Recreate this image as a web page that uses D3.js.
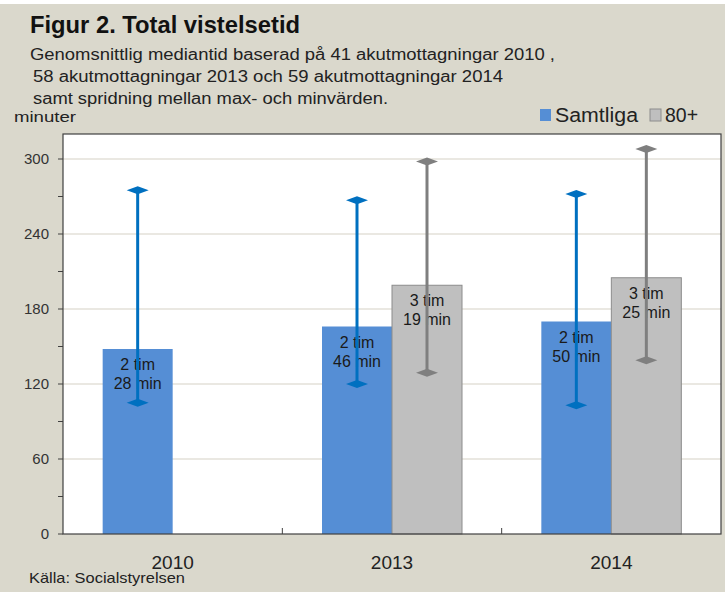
<!DOCTYPE html>
<html><head><meta charset="utf-8">
<script src="https://cdn.jsdelivr.net/npm/d3@7"></script>
<style>body{margin:0;background:#fff}svg{display:block}text{font-family:"Liberation Sans",Arial,sans-serif}</style>
</head><body><svg id="c" width="725" height="592"></svg>
<script>
const categories = ["2010","2013","2014"];
const series = ["Samtliga","80+"];
const samtliga = [148,166,170];
const plus80 = [null,199,205];
const samtligaMin = [105,120,103];
const samtligaMax = [275,267,272];
const plus80Min = [null,129,139];
const plus80Max = [null,298,308];
const labelsSamtliga = [["2 tim","28 min"],["2 tim","46 min"],["2 tim","50 min"]];
const labels80 = [null,["3 tim","19 min"],["3 tim","25 min"]];
const yTicks = [0,60,120,180,240,300];
const title = "Figur 2. Total vistelsetid";
const subtitle = ["Genomsnittlig mediantid baserad på 41 akutmottagningar 2010 ,","58 akutmottagningar 2013  och 59 akutmottagningar 2014","samt spridning mellan max- och minvärden."];
const source = "Källa: Socialstyrelsen";
const yUnit = "minuter";

const svg = d3.select("#c");
svg.append("rect").attr("x",0).attr("y",4).attr("width",725).attr("height",588).attr("fill","#DAD8CC");

const L=63,R=721,T=134,B=534;
const x = d3.scaleBand().domain(categories).range([L,R]);
const y = d3.scaleLinear().domain([0,320]).range([B,T]);
const bw = 70;
const xs = d3.scaleBand().domain(series).range([x.bandwidth()/2-bw, x.bandwidth()/2+bw]);

svg.append("rect").attr("x",L).attr("y",T).attr("width",R-L).attr("height",B-T).attr("fill","#fff");

// gridlines
svg.append("g").selectAll("line").data(yTicks.filter(d=>d>0)).join("line")
  .attr("x1",L).attr("x2",R).attr("y1",d=>y(d)).attr("y2",d=>y(d))
  .attr("stroke","#E3E1D8").attr("stroke-width",1.5);

const colors = {"Samtliga":"#558ED5","80+":"#BFBFBF"};
const errColors = {"Samtliga":"#0070C0","80+":"#7F7F7F"};
const rows = [];
categories.forEach((c,i)=>{
  rows.push({c,s:"Samtliga",v:samtliga[i],mn:samtligaMin[i],mx:samtligaMax[i],lab:labelsSamtliga[i]});
  if(plus80[i]!=null) rows.push({c,s:"80+",v:plus80[i],mn:plus80Min[i],mx:plus80Max[i],lab:labels80[i]});
});

const g = svg.append("g");
g.selectAll("rect.bar").data(rows).join("rect").attr("class","bar")
  .attr("x",d=>x(d.c)+xs(d.s)).attr("width",xs.bandwidth())
  .attr("y",d=>y(d.v)).attr("height",d=>y(0)-y(d.v))
  .attr("fill",d=>colors[d.s])
  .attr("stroke",d=>d.s==="80+"?"#8C8C8C":"none").attr("stroke-width",1);

// data labels
rows.forEach(d=>{
  const cx = x(d.c)+xs(d.s)+xs.bandwidth()/2;
  d.lab.forEach((t,k)=>{
    g.append("text").attr("x",cx).attr("y",y(d.v)+21+k*19).attr("text-anchor","middle")
     .attr("font-size",16).attr("fill","#1a1a1a").text(t);
  });
});

// error bars
const diamond = (cx,cy)=>`M${cx-11},${cy}L${cx},${cy-4}L${cx+11},${cy}L${cx},${cy+4}Z`;
rows.forEach(d=>{
  const cx = x(d.c)+xs(d.s)+xs.bandwidth()/2;
  g.append("line").attr("x1",cx).attr("x2",cx).attr("y1",y(d.mx)).attr("y2",y(d.mn))
    .attr("stroke",errColors[d.s]).attr("stroke-width",3);
  [d.mn,d.mx].forEach(v=>g.append("path").attr("d",diamond(cx,y(v))).attr("fill",errColors[d.s]));
});

// frame
svg.append("rect").attr("x",L).attr("y",T).attr("width",R-L).attr("height",B-T)
  .attr("fill","none").attr("stroke","#404040").attr("stroke-width",1.2);

// y axis ticks
const minor = d3.range(0,301,30);
svg.append("g").selectAll("line").data(minor).join("line")
  .attr("x1",L-5).attr("x2",L).attr("y1",d=>y(d)).attr("y2",d=>y(d)).attr("stroke","#404040");
svg.append("g").selectAll("text").data(yTicks).join("text")
  .attr("x",L-14).attr("y",d=>y(d)+5).attr("text-anchor","end").attr("font-size",15).attr("fill","#333")
  .attr("font-family","DejaVu Sans").text(d=>d);

// x axis ticks (category boundaries)
svg.append("g").selectAll("line").data(categories.slice(1)).join("line")
  .attr("x1",d=>x(d)).attr("x2",d=>x(d)).attr("y1",B).attr("y2",B-6).attr("stroke","#404040");
svg.append("g").selectAll("text").data(categories).join("text")
  .attr("x",d=>x(d)+x.bandwidth()/2).attr("y",569).attr("text-anchor","middle")
  .attr("font-size",19).attr("fill","#222").text(d=>d);

// title etc.
svg.append("text").attr("x",30).attr("y",33).attr("font-size",24).attr("font-weight","bold").attr("fill","#111")
  .attr("textLength",270).attr("lengthAdjust","spacingAndGlyphs").text(title);
const subW = [525,470,355];
subtitle.forEach((t,i)=>svg.append("text").attr("x",i===0?30:33).attr("y",60+i*22).attr("font-size",16).attr("fill","#222")
  .attr("textLength",subW[i]).attr("lengthAdjust","spacingAndGlyphs").text(t));
svg.append("text").attr("x",14).attr("y",122).attr("font-size",14.5).attr("fill","#222")
  .attr("textLength",62).attr("lengthAdjust","spacingAndGlyphs").text(yUnit);
svg.append("text").attr("x",29).attr("y",583).attr("font-size",14.5).attr("fill","#222")
  .attr("textLength",156).attr("lengthAdjust","spacingAndGlyphs").text(source);

// legend
const leg = svg.append("g");
const legX = [540,650];
const legW = [83,33];
series.forEach((s,i)=>{
  leg.append("rect").attr("x",legX[i]).attr("y",109).attr("width",11).attr("height",12)
    .attr("fill",colors[s]).attr("stroke",s==="80+"?"#8C8C8C":"none");
  leg.append("text").attr("x",legX[i]+15).attr("y",122).attr("font-size",20).attr("fill","#222")
    .attr("textLength",legW[i]).attr("lengthAdjust","spacingAndGlyphs").text(s);
});
</script></body></html>
